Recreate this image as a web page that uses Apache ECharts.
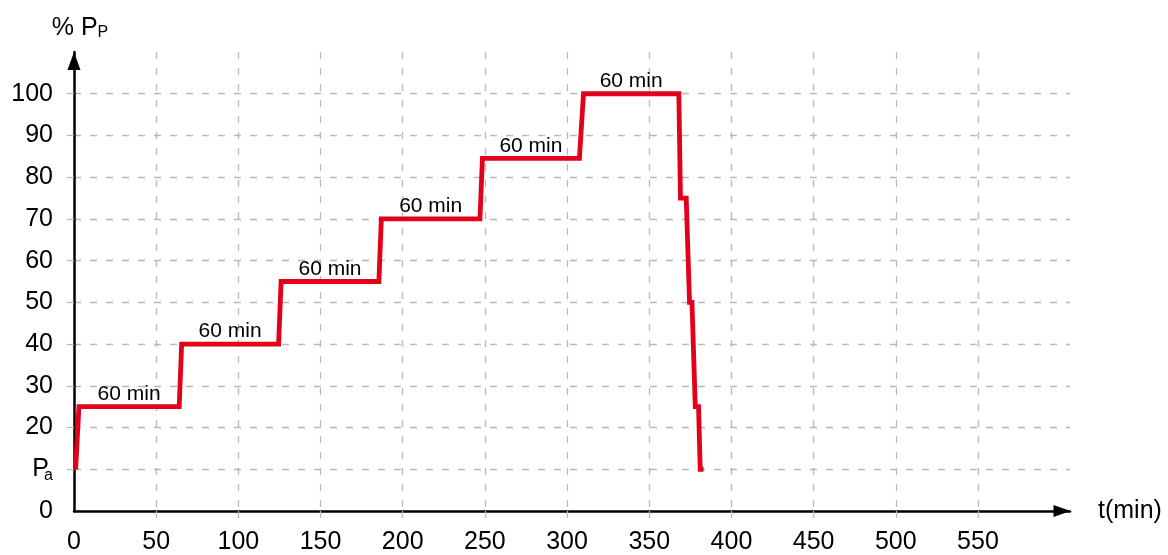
<!DOCTYPE html>
<html>
<head>
<meta charset="utf-8">
<script src="https://cdn.jsdelivr.net/npm/echarts@6/dist/echarts.min.js"></script>
<style>
html,body{margin:0;padding:0;background:#fff;}
#chart{width:1168px;height:555px;}
</style>
</head>
<body>
<div id="chart"></div>
<script>
// ---- data ----
const timeMin = [1, 3, 64, 65.5, 124.5, 126, 185.5, 187, 247, 248.5, 307.5, 310, 368, 369, 372.5, 374.5, 376, 378, 380, 381, 383];
const pressurePct = [10, 25, 25, 40, 40, 55, 55, 70, 70, 84.5, 84.5, 100, 100, 75, 75, 50, 50, 25, 25, 10, 10];
const holdLabel = '60 min';
const holdStartIdx = [1, 3, 5, 7, 9, 11];
const xTicks = [0, 50, 100, 150, 200, 250, 300, 350, 400, 450, 500, 550];
const yTicks = [0, 10, 20, 30, 40, 50, 60, 70, 80, 90, 100];
const xName = 't(min)';
const yName = '% P';
const yNameSub = 'P';
const pa = 'P';
const paSub = 'a';

const FONT = '"Liberation Sans", Arial, Helvetica, sans-serif';
const lineData = timeMin.map((t, i) => [t, pressurePct[i]]);
const labelData = holdStartIdx.map(i => [(timeMin[i] + timeMin[i + 1]) / 2, pressurePct[i]]);
const gridLine = { color: '#b8b8b8', width: 1.3, type: [7, 9] };

const chart = echarts.init(document.getElementById('chart'), null, { renderer: 'canvas' });
chart.setOption({
  animation: false,
  backgroundColor: '#fff',
  grid: { left: 74, right: 98, top: 52, bottom: 44, containLabel: false },
  xAxis: {
    type: 'value', min: 0, max: 606,
    name: xName, nameLocation: 'end', nameGap: 28,
    nameTextStyle: { fontFamily: FONT, fontSize: 25, color: '#000' },
    axisLine: { show: true, lineStyle: { color: '#000', width: 2.5 }, symbol: ['none', 'triangle'], symbolSize: [12, 17], symbolOffset: [0, -8] },
    axisTick: { show: true, customValues: xTicks.slice(1), length: 7, lineStyle: gridLine },
    axisLabel: { customValues: xTicks, margin: 19, fontFamily: FONT, fontSize: 25, color: '#000' },
    splitLine: { show: true, lineStyle: gridLine }
  },
  yAxis: {
    type: 'value', min: 0, max: 110,
    name: '{a|' + yName + '}{b|' + yNameSub + '}', nameLocation: 'end', nameGap: 11,
    nameTextStyle: {
      padding: [0, 0, 0, 12],
      rich: {
        a: { fontFamily: FONT, fontSize: 25, color: '#000' },
        b: { fontFamily: FONT, fontSize: 16, color: '#000', padding: [10, 0, 0, 0] }
      }
    },
    axisLine: { show: true, lineStyle: { color: '#000', width: 2.5 }, symbol: ['none', 'triangle'], symbolSize: [13, 18], symbolOffset: [0, -9] },
    axisTick: { show: true, customValues: yTicks.slice(1), length: 8, lineStyle: gridLine },
    axisLabel: {
      customValues: yTicks, margin: 21, fontFamily: FONT, fontSize: 25, color: '#000',
      formatter: v => v === 10 ? '{p|' + pa + '}{s|' + paSub + '}' : String(v),
      rich: {
        p: { fontFamily: FONT, fontSize: 25, color: '#000' },
        s: { fontFamily: FONT, fontSize: 16, color: '#000', padding: [12, 0, 0, 0], width: 4 }
      }
    },
    splitLine: { show: true, lineStyle: gridLine }
  },
  series: [
    {
      type: 'line', data: lineData, showSymbol: false, symbol: 'none',
      lineStyle: { color: '#e2001a', width: 4.8, join: 'miter', cap: 'butt' },
      silent: true, z: 3
    },
    {
      type: 'scatter', data: labelData, symbolSize: 0, silent: true, z: 4,
      itemStyle: { opacity: 1 },
      label: { show: true, position: 'top', distance: 2, formatter: () => holdLabel, opacity: 1,
        fontFamily: FONT, fontSize: 21, color: '#000' }
    }
  ]
});
</script>
</body>
</html>
